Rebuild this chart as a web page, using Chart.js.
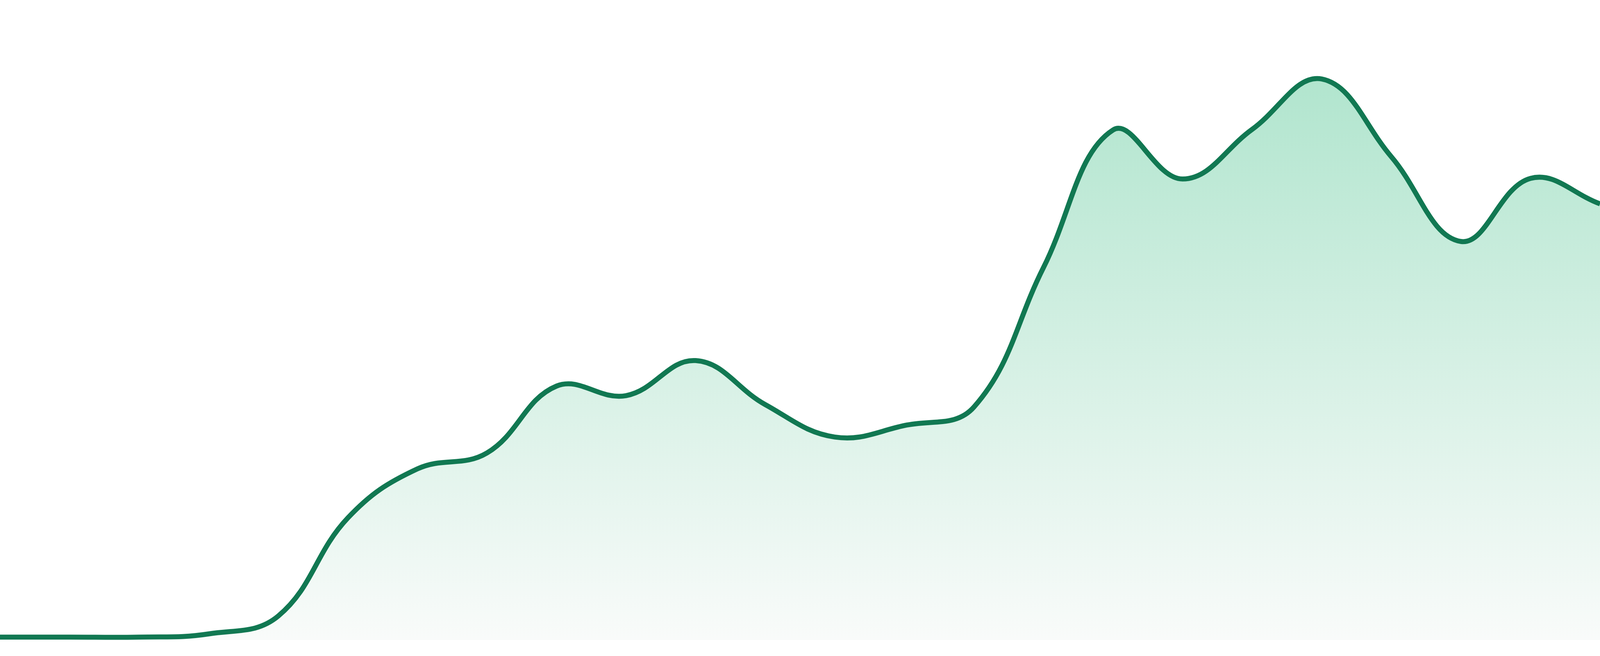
<!DOCTYPE html>
<html>
<head>
<meta charset="utf-8">
<script src="https://cdn.jsdelivr.net/npm/chart.js@4/dist/chart.umd.min.js"></script>
<style>
  html, body { margin: 0; padding: 0; background: #ffffff; overflow: hidden; width: 100%; height: 100%; }
  #wrap { position: absolute; left: 0; top: 0; width: 100vw; height: 100vh; }
  canvas { display: block; }
</style>
</head>
<body>
<div id="wrap"><canvas id="c"></canvas></div>
<script>
const categories = ['1','2','3','4','5','6','7','8','9','10','11','12',
                    '13','14','15','16','17','18','19','20','21','22','23','24'];
const seriesValues = [0, 0, 0, 0.5, 3.3, 18.7, 26.4, 28.9, 39.4, 37.9, 43.4, 36.5,
                      31.4, 33.2, 36.1, 58.0, 79.6, 71.9, 79.7, 87.6, 75.4, 62.1, 72.0, 68.0];
const yMin = -0.46;
const yMax = 100;

const k = window.innerWidth / 4800;   // reference is 4800 px wide
const ctx = document.getElementById('c').getContext('2d');
new Chart(ctx, {
  type: 'line',
  data: {
    labels: categories,
    datasets: [{
      data: seriesValues,
      borderColor: '#117852',
      borderWidth: 15 * k,
      pointRadius: 0,
      pointHoverRadius: 0,
      tension: 0.4,
      fill: 'start',
      backgroundColor: function(context) {
        const chart = context.chart;
        const area = chart.chartArea;
        if (!area) return 'rgba(167,226,200,0.5)';
        const g = chart.ctx.createLinearGradient(0, area.top, 0, area.bottom);
        g.addColorStop(0, '#a7e2c8');
        g.addColorStop(1, '#f9fbfa');
        return g;
      }
    }]
  },
  options: {
    responsive: true,
    maintainAspectRatio: false,
    animation: false,
    layout: { padding: { left: 0, right: 0, top: 0, bottom: 48 * k } },
    plugins: { legend: { display: false }, tooltip: { enabled: false } },
    scales: {
      x: { display: false, offset: false },
      y: { display: false, min: yMin, max: yMax }
    }
  }
});
</script>
</body>
</html>
